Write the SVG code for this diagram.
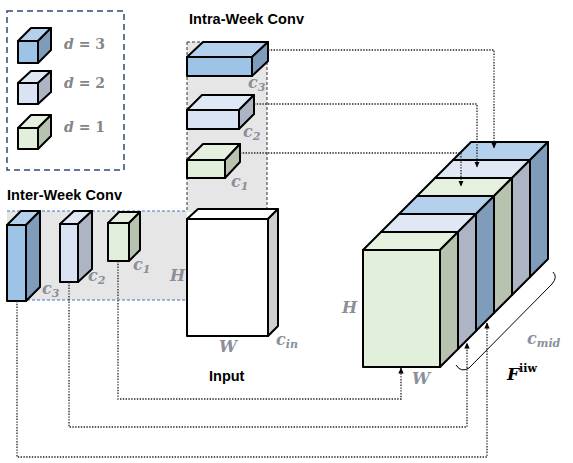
<svg xmlns="http://www.w3.org/2000/svg" width="573" height="463" viewBox="0 0 573 463">
<style>
.k{stroke:#000;stroke-width:2;stroke-linejoin:round}
.bF{fill:#9DC3E6}.bT{fill:#B4D0EC}.bS{fill:#7F9DBB}
.lF{fill:#DAE3F3}.lT{fill:#E1E8F5}.lS{fill:#ADB5C4}
.gF{fill:#E2EFDA}.gT{fill:#E6F0DF}.gS{fill:#B7C3AE}
.wF{fill:#fff}.wS{fill:#D0D0D0}
.dot{fill:none;stroke:#222;stroke-width:1.3;stroke-dasharray:1.4 1.4}
.ttl{font-family:"Liberation Sans",Arial,sans-serif;font-weight:bold;font-size:14.5px;fill:#000}
.m{font-family:"DejaVu Serif","Liberation Serif",serif;font-style:italic;font-weight:bold;fill:#8A8F99;font-size:16px}
.s{font-size:11px}
.md{font-family:"DejaVu Serif","Liberation Serif",serif;font-weight:bold;fill:#858585;font-size:14px}
</style>
<defs>
<marker id="ar" markerUnits="userSpaceOnUse" markerWidth="6" markerHeight="6" refX="5.5" refY="3" orient="auto">
<path d="M0,0.3 L6,3 L0,5.7 z" fill="#000"/>
</marker>
</defs>

<!-- background regions -->
<g id="regions">
<rect x="187" y="42" width="80" height="170" fill="#E6E6E6"/>
<rect x="7" y="211" width="180" height="89" fill="#E6E6E6"/>
<path d="M187,42 H267 M187,42 V211 M267,42 V210" fill="none" stroke="#333" stroke-width="1" stroke-dasharray="3 2"/>
<path d="M7,211 H187 M27,300 H187" fill="none" stroke="#4472C4" stroke-width="1" stroke-dasharray="3 2"/>
</g>

<!-- legend -->
<g id="legend">
<rect x="7" y="11" width="117" height="159" fill="none" stroke="#2F4A7A" stroke-width="1.5" stroke-dasharray="6 4"/>
<g class="k">
<path class="bT" d="M18,41 L31,28 H51 L38,41 Z"/><path class="bS" d="M38,41 L51,28 V50 L38,63 Z"/><rect class="bF" x="18" y="41" width="20" height="22"/>
<path class="lT" d="M18,83 L31,71 H51 L38,83 Z"/><path class="lS" d="M38,83 L51,71 V92 L38,104 Z"/><rect class="lF" x="18" y="83" width="20" height="21"/>
<path class="gT" d="M18,128 L31,115 H51 L38,128 Z"/><path class="gS" d="M38,128 L51,115 V136 L38,149 Z"/><rect class="gF" x="18" y="128" width="20" height="21"/>
</g>
<text class="md" x="64" y="49"><tspan font-style="italic">d</tspan> = 3</text>
<text class="md" x="64" y="88"><tspan font-style="italic">d</tspan> = 2</text>
<text class="md" x="64" y="132"><tspan font-style="italic">d</tspan> = 1</text>
</g>

<text class="ttl" x="189" y="24" textLength="115">Intra-Week Conv</text>
<text class="ttl" x="7" y="200" textLength="115">Inter-Week Conv</text>

<!-- intra-week cubes -->
<g id="intra-c3" class="k">
<path class="bT" d="M187,57 L203,42 H268 L252,57 Z"/><path class="bS" d="M252,57 L268,42 V61 L252,76 Z"/><rect class="bF" x="187" y="57" width="65" height="19"/>
</g>
<g id="intra-c2" class="k">
<path class="lT" d="M187,110 L202,95 H254 L239,110 Z"/><path class="lS" d="M239,110 L254,95 V114 L239,129 Z"/><rect class="lF" x="187" y="110" width="52" height="19"/>
</g>
<g id="intra-c1" class="k">
<path class="gT" d="M187,160 L203,144 H240 L225,160 Z"/><path class="gS" d="M225,160 L240,144 V162 L225,178 Z"/><rect class="gF" x="187" y="160" width="38" height="18"/>
</g>
<text class="m" x="248" y="88">c<tspan class="s" dy="3">3</tspan></text>
<text class="m" x="243" y="137">c<tspan class="s" dy="3">2</tspan></text>
<text class="m" x="231" y="187">c<tspan class="s" dy="3">1</tspan></text>

<!-- inter-week cubes -->
<g id="inter-c3" class="k">
<path class="bT" d="M7,225 L21,211 H40 L26,225 Z"/><path class="bS" d="M26,225 L40,211 V287 L26,301 Z"/><rect class="bF" x="7" y="225" width="19" height="76"/>
</g>
<g id="inter-c2" class="k">
<path class="lT" d="M60,224 L74,211 H92 L78,224 Z"/><path class="lS" d="M78,224 L92,211 V269 L78,282 Z"/><rect class="lF" x="60" y="224" width="18" height="58"/>
</g>
<g id="inter-c1" class="k">
<path class="gT" d="M108,223 L119,212 H140 L129,223 Z"/><path class="gS" d="M129,223 L140,212 V250 L129,261 Z"/><rect class="gF" x="108" y="223" width="21" height="38"/>
</g>
<text class="m" x="42" y="294">c<tspan class="s" dy="3">3</tspan></text>
<text class="m" x="88" y="281">c<tspan class="s" dy="3">2</tspan></text>
<text class="m" x="133" y="270">c<tspan class="s" dy="3">1</tspan></text>

<!-- input -->
<g id="input">
<g class="k">
<path class="wF" d="M187,219 L198,209 H278 L268,219 Z"/><path class="wS" d="M268,219 L278,209 V326 L268,336 Z"/><rect class="wF" x="187" y="219" width="81" height="117"/>
</g>
<text class="m" x="170" y="281">H</text>
<text class="m" x="219" y="352">W</text>
<text class="m" x="276" y="345">c<tspan class="s" dy="3">in</tspan></text>
<text class="ttl" x="209" y="381" font-size="15.5">Input</text>
</g>

<!-- F stack -->
<g id="F-iiw">
<g class="k">
<path class="bT" d="M453,160 L471,142 H548 L530,160 Z"/><path class="bS" d="M530,160 L548,142 V259 L530,277 Z"/>
<path class="lT" d="M435,178 L453,160 H530 L512,178 Z"/><path class="lS" d="M512,178 L530,160 V277 L512,295 Z"/>
<path class="gT" d="M417,196 L435,178 H512 L494,196 Z"/><path class="gS" d="M494,196 L512,178 V295 L494,313 Z"/>
<path class="bT" d="M399,214 L417,196 H494 L476,214 Z"/><path class="bS" d="M476,214 L494,196 V313 L476,331 Z"/>
<path class="lT" d="M381,232 L399,214 H476 L458,232 Z"/><path class="lS" d="M458,232 L476,214 V331 L458,349 Z"/>
<path class="gT" d="M363,250 L381,232 H458 L440,250 Z"/><path class="gS" d="M440,250 L458,232 V349 L440,367 Z"/>
<rect class="gF" x="363" y="250" width="77" height="117"/>
</g>
<path d="M456,365 Q461,373 469,368 L552,284 Q558,277 553,272" fill="none" stroke="#000" stroke-width="1"/>
<text class="m" x="342" y="313">H</text>
<text class="m" x="412" y="384">W</text>
<text class="m" x="527" y="344">c<tspan class="s" dy="3">mid</tspan></text>
<text x="507" y="380" font-family="DejaVu Serif,serif" font-size="17" font-weight="bold" font-style="italic" fill="#000">F<tspan font-style="normal" font-size="11" dy="-8">iiw</tspan></text>
</g>

<!-- connectors -->
<g id="connectors">
<path class="dot" d="M268,50 H494 V148" marker-end="url(#ar)"/>
<path class="dot" d="M254,104 H477 V167" marker-end="url(#ar)"/>
<path class="dot" d="M240,153 H461 V186" marker-end="url(#ar)"/>
<path class="dot" d="M118,261 V399 H401 V368" marker-end="url(#ar)"/>
<path class="dot" d="M69,282 V427 H467 V343" marker-end="url(#ar)"/>
<path class="dot" d="M17,301 V457 H487 V323" marker-end="url(#ar)"/>
</g>
</svg>
